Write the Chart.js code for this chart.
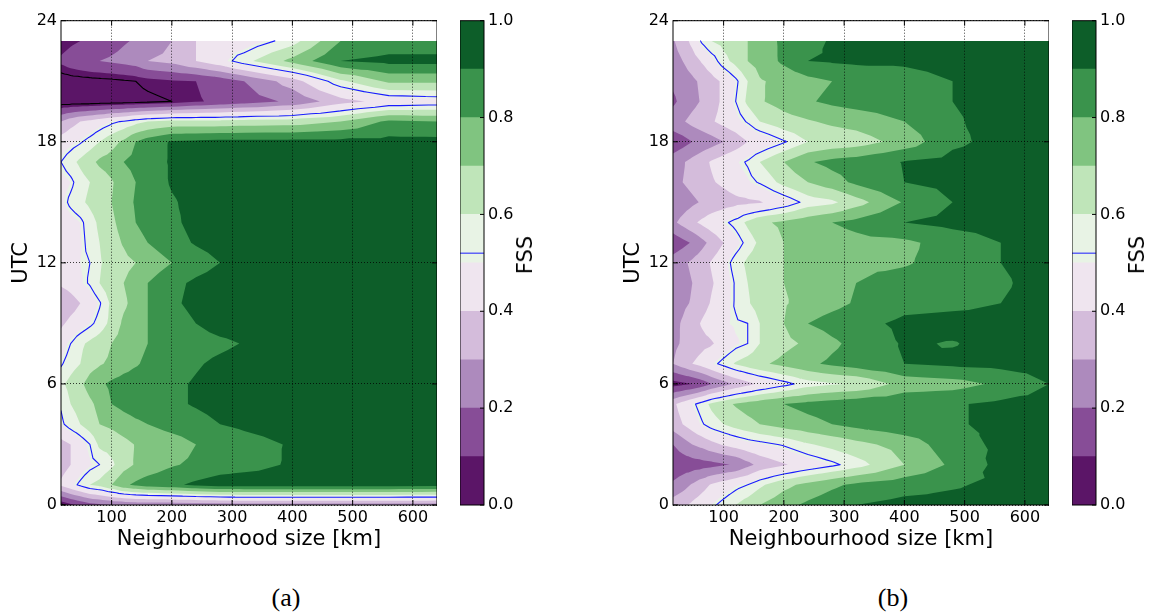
<!DOCTYPE html>
<html>
<head>
<meta charset="utf-8">
<script src="https://cdn.jsdelivr.net/npm/chart.js@4/dist/chart.umd.min.js"></script>
<style>
  body { margin: 0; background: #fff; width: 1154px; height: 612px; position: relative; overflow: hidden; font-family: "DejaVu Sans", sans-serif; }
  canvas { position: absolute; top: 0; }
  .cbar-label { position: absolute; font-size: 21px; color: #000; white-space: nowrap; transform: translate(-50%, -50%) rotate(-90deg); }
  .panel-tag { position: absolute; font-family: "Liberation Serif", serif; font-size: 26px; color: #000; transform: translate(-50%, -50%); }
</style>
</head>
<body>
<canvas id="fssA" width="437" height="560" style="left:0px"></canvas>
<canvas id="barA" width="60" height="560" style="left:460px"></canvas>
<canvas id="fssB" width="437" height="560" style="left:612px"></canvas>
<canvas id="barB" width="60" height="560" style="left:1072px"></canvas>
<div class="cbar-label" style="left:525px; top:255px">FSS</div>
<div class="cbar-label" style="left:1137px; top:255px">FSS</div>
<div class="panel-tag" style="left:286px; top:598px">(a)</div>
<div class="panel-tag" style="left:893px; top:598px">(b)</div>
<script>
"use strict"

// neighbourhood sizes (km) and forecast hours the scores were computed on
const sizesKm = [16, 32, 48, 64, 80, 100, 120, 140, 160, 200, 240, 280, 320, 400, 480, 560, 640]
const utcHours = [0, 1, 2, 3, 4, 5, 6, 7, 8, 9, 10, 11, 12, 13, 14, 15, 16, 17, 18, 19, 20, 21, 22, 23]

// FSS, one row per hour, one column per neighbourhood size
const fssPanelA = [
  [0.03, 0.08, 0.12, 0.16, 0.18, 0.2, 0.21, 0.22, 0.22, 0.22, 0.23, 0.24, 0.25, 0.25, 0.25, 0.25, 0.25],
  [0.42, 0.48, 0.54, 0.6, 0.63, 0.7, 0.78, 0.82, 0.85, 0.88, 0.92, 0.95, 0.95, 0.95, 0.95, 0.95, 0.94],
  [0.35, 0.4, 0.45, 0.49, 0.52, 0.58, 0.66, 0.71, 0.74, 0.79, 0.82, 0.85, 0.87, 0.91, 0.94, 0.95, 0.95],
  [0.36, 0.4, 0.46, 0.52, 0.62, 0.64, 0.67, 0.705, 0.72, 0.75, 0.8, 0.83, 0.86, 0.91, 0.95, 0.96, 0.96],
  [0.5, 0.56, 0.6, 0.65, 0.7, 0.72, 0.75, 0.78, 0.8, 0.84, 0.86, 0.9, 0.92, 0.95, 0.96, 0.96, 0.96],
  [0.53, 0.6, 0.63, 0.68, 0.73, 0.8, 0.83, 0.85, 0.86, 0.88, 0.91, 0.94, 0.95, 0.96, 0.96, 0.96, 0.96],
  [0.58, 0.63, 0.68, 0.74, 0.78, 0.82, 0.84, 0.85, 0.86, 0.88, 0.91, 0.94, 0.95, 0.96, 0.96, 0.96, 0.96],
  [0.51, 0.56, 0.6, 0.66, 0.69, 0.72, 0.76, 0.79, 0.82, 0.86, 0.89, 0.92, 0.94, 0.95, 0.96, 0.96, 0.96],
  [0.46, 0.52, 0.58, 0.62, 0.65, 0.7, 0.74, 0.77, 0.8, 0.84, 0.86, 0.88, 0.905, 0.95, 0.96, 0.96, 0.96],
  [0.38, 0.43, 0.46, 0.5, 0.55, 0.63, 0.72, 0.76, 0.8, 0.85, 0.9, 0.94, 0.95, 0.96, 0.96, 0.96, 0.96],
  [0.3, 0.35, 0.4, 0.45, 0.51, 0.62, 0.68, 0.74, 0.8, 0.88, 0.93, 0.95, 0.96, 0.96, 0.96, 0.96, 0.96],
  [0.42, 0.45, 0.49, 0.53, 0.6, 0.66, 0.7, 0.75, 0.8, 0.87, 0.92, 0.95, 0.96, 0.96, 0.96, 0.96, 0.96],
  [0.45, 0.47, 0.5, 0.52, 0.59, 0.64, 0.67, 0.7, 0.74, 0.8, 0.85, 0.9, 0.94, 0.96, 0.96, 0.96, 0.96],
  [0.44, 0.46, 0.49, 0.55, 0.6, 0.66, 0.71, 0.77, 0.8, 0.86, 0.91, 0.94, 0.95, 0.96, 0.96, 0.96, 0.96],
  [0.44, 0.47, 0.5, 0.56, 0.62, 0.68, 0.74, 0.8, 0.83, 0.88, 0.93, 0.95, 0.96, 0.96, 0.96, 0.96, 0.96],
  [0.48, 0.54, 0.58, 0.62, 0.66, 0.7, 0.76, 0.81, 0.84, 0.89, 0.93, 0.95, 0.96, 0.96, 0.96, 0.96, 0.96],
  [0.47, 0.5, 0.56, 0.6, 0.64, 0.69, 0.75, 0.8, 0.84, 0.91, 0.94, 0.95, 0.96, 0.96, 0.96, 0.96, 0.96],
  [0.52, 0.57, 0.62, 0.67, 0.72, 0.75, 0.8, 0.83, 0.86, 0.91, 0.95, 0.96, 0.96, 0.96, 0.96, 0.96, 0.96],
  [0.45, 0.48, 0.51, 0.55, 0.6, 0.66, 0.72, 0.8, 0.85, 0.91, 0.92, 0.93, 0.93, 0.93, 0.93, 0.93, 0.93],
  [0.3, 0.36, 0.4, 0.43, 0.46, 0.5, 0.53, 0.57, 0.6, 0.63, 0.63, 0.63, 0.64, 0.65, 0.7, 0.82, 0.8],
  [0.0, 0.0, 0.0, 0.0, 0.005, 0.01, 0.015, 0.02, 0.03, 0.05, 0.09, 0.12, 0.15, 0.22, 0.36, 0.44, 0.46],
  [0.0, 0.01, 0.015, 0.02, 0.025, 0.03, 0.04, 0.05, 0.07, 0.09, 0.1, 0.14, 0.2, 0.35, 0.58, 0.72, 0.72],
  [0.12, 0.15, 0.17, 0.19, 0.2, 0.215, 0.23, 0.25, 0.3, 0.33, 0.4, 0.47, 0.57, 0.73, 0.9, 0.93, 0.93],
  [0.05, 0.08, 0.1, 0.12, 0.14, 0.16, 0.19, 0.21, 0.23, 0.3, 0.4, 0.44, 0.45, 0.56, 0.8, 0.84, 0.84]
]

const fssPanelB = [
  [0.35, 0.38, 0.42, 0.46, 0.5, 0.55, 0.6, 0.65, 0.7, 0.77, 0.82, 0.86, 0.9, 0.93, 0.93, 0.94, 0.94],
  [0.22, 0.26, 0.31, 0.36, 0.41, 0.45, 0.49, 0.52, 0.58, 0.67, 0.73, 0.78, 0.82, 0.86, 0.89, 0.92, 0.94],
  [0.12, 0.14, 0.15, 0.16, 0.17, 0.19, 0.21, 0.27, 0.33, 0.39, 0.45, 0.5, 0.56, 0.7, 0.82, 0.93, 0.94],
  [0.2, 0.25, 0.3, 0.33, 0.37, 0.41, 0.44, 0.47, 0.49, 0.53, 0.59, 0.63, 0.67, 0.74, 0.86, 0.92, 0.94],
  [0.35, 0.4, 0.45, 0.51, 0.56, 0.6, 0.64, 0.67, 0.7, 0.74, 0.77, 0.8, 0.83, 0.87, 0.89, 0.92, 0.94],
  [0.38, 0.44, 0.5, 0.56, 0.62, 0.67, 0.71, 0.74, 0.76, 0.8, 0.83, 0.85, 0.87, 0.88, 0.89, 0.92, 0.94],
  [0.06, 0.08, 0.1, 0.14, 0.2, 0.26, 0.32, 0.37, 0.42, 0.49, 0.56, 0.59, 0.61, 0.74, 0.76, 0.82, 0.9],
  [0.3, 0.35, 0.4, 0.44, 0.49, 0.55, 0.61, 0.65, 0.68, 0.73, 0.78, 0.82, 0.85, 0.9, 0.92, 0.93, 0.94],
  [0.28, 0.31, 0.34, 0.37, 0.39, 0.44, 0.49, 0.52, 0.6, 0.67, 0.72, 0.78, 0.83, 0.91, 0.895, 0.93, 0.94],
  [0.27, 0.31, 0.36, 0.41, 0.45, 0.49, 0.51, 0.52, 0.6, 0.7, 0.8, 0.84, 0.87, 0.92, 0.93, 0.93, 0.94],
  [0.25, 0.28, 0.31, 0.36, 0.41, 0.46, 0.53, 0.59, 0.64, 0.69, 0.74, 0.77, 0.81, 0.87, 0.88, 0.9, 0.93],
  [0.22, 0.26, 0.3, 0.34, 0.39, 0.45, 0.53, 0.6, 0.64, 0.7, 0.73, 0.76, 0.8, 0.84, 0.87, 0.89, 0.93],
  [0.25, 0.28, 0.32, 0.36, 0.41, 0.47, 0.56, 0.62, 0.66, 0.7, 0.74, 0.76, 0.78, 0.79, 0.84, 0.9, 0.93],
  [0.13, 0.17, 0.21, 0.27, 0.33, 0.4, 0.47, 0.55, 0.62, 0.7, 0.73, 0.75, 0.77, 0.78, 0.84, 0.9, 0.93],
  [0.28, 0.33, 0.38, 0.42, 0.46, 0.5, 0.55, 0.62, 0.68, 0.72, 0.76, 0.8, 0.83, 0.9, 0.93, 0.94, 0.95],
  [0.22, 0.25, 0.28, 0.31, 0.33, 0.35, 0.37, 0.38, 0.39, 0.46, 0.55, 0.58, 0.66, 0.81, 0.9, 0.93, 0.94],
  [0.28, 0.3, 0.33, 0.36, 0.39, 0.42, 0.46, 0.49, 0.53, 0.63, 0.7, 0.76, 0.82, 0.9, 0.93, 0.95, 0.95],
  [0.25, 0.29, 0.33, 0.37, 0.41, 0.45, 0.49, 0.53, 0.6, 0.7, 0.79, 0.83, 0.85, 0.905, 0.93, 0.95, 0.95],
  [0.13, 0.16, 0.2, 0.23, 0.26, 0.3, 0.34, 0.4, 0.43, 0.51, 0.6, 0.63, 0.65, 0.74, 0.88, 0.93, 0.93],
  [0.26, 0.29, 0.33, 0.36, 0.39, 0.43, 0.47, 0.53, 0.6, 0.66, 0.69, 0.72, 0.74, 0.8, 0.89, 0.93, 0.94],
  [0.18, 0.23, 0.27, 0.31, 0.36, 0.42, 0.52, 0.62, 0.69, 0.74, 0.79, 0.82, 0.84, 0.86, 0.9, 0.93, 0.94],
  [0.22, 0.25, 0.28, 0.32, 0.36, 0.42, 0.5, 0.6, 0.69, 0.73, 0.77, 0.8, 0.82, 0.85, 0.9, 0.93, 0.94],
  [0.26, 0.3, 0.35, 0.41, 0.47, 0.57, 0.63, 0.7, 0.74, 0.82, 0.9, 0.91, 0.92, 0.92, 0.94, 0.95, 0.95],
  [0.29, 0.35, 0.43, 0.535, 0.6, 0.63, 0.66, 0.7, 0.75, 0.82, 0.87, 0.91, 0.93, 0.95, 0.96, 0.96, 0.96]
]

// contour bands, 0.0 to 1.0 in steps of 0.1, purple to green
const fssLevels = [0, 0.1, 0.2, 0.3, 0.4, 0.5, 0.6, 0.7, 0.8, 0.9, 1.0]
const bandColors = ["#5b1567", "#874d97", "#ad8abd", "#d4bcdb", "#efe5ef",
                    "#e8f3e5", "#bfe5b9", "#80c480", "#3a934c", "#0d5e29"]
const usefulLevel = 0.52
const lowLevel = 0.05

const sizeTicks = [100, 200, 300, 400, 500, 600]
const hourTicks = [0, 6, 12, 18, 24]
const barTicks = [0, 0.2, 0.4, 0.6, 0.8, 1.0]

Chart.defaults.font.family = "'DejaVu Sans', sans-serif"
Chart.defaults.color = "#000"

// split each grid cell in four triangles around its centre
function buildTriangles(fss, xScale, yScale){
    const tris = []
    const pt = (i, j) => ({
        x: xScale.getPixelForValue(sizesKm[i]),
        y: yScale.getPixelForValue(utcHours[j]),
        v: fss[j][i]
    })
    for (let j = 0; j < utcHours.length - 1; j++){
        for (let i = 0; i < sizesKm.length - 1; i++){
            const a = pt(i, j), b = pt(i + 1, j), c = pt(i + 1, j + 1), d = pt(i, j + 1)
            const m = {
                x: (a.x + b.x + c.x + d.x) / 4,
                y: (a.y + b.y + c.y + d.y) / 4,
                v: (a.v + b.v + c.v + d.v) / 4
            }
            tris.push([a, b, m], [b, c, m], [c, d, m], [d, a, m])
        }
    }
    return tris
}

// keep the part of a polygon where v >= level
function clipAbove(poly, level){
    const out = []
    for (let k = 0; k < poly.length; k++){
        const a = poly[k], b = poly[(k + 1) % poly.length]
        const ina = a.v >= level, inb = b.v >= level
        if (ina) out.push(a)
        if (ina !== inb){
            const t = (level - a.v) / (b.v - a.v)
            out.push({x: a.x + t * (b.x - a.x), y: a.y + t * (b.y - a.y), v: level})
        }
    }
    return out
}

function strokeLevel(ctx, tris, level, color){
    ctx.beginPath()
    for (const tri of tris){
        const pts = []
        for (let k = 0; k < 3; k++){
            const a = tri[k], b = tri[(k + 1) % 3]
            if ((a.v >= level) !== (b.v >= level)){
                const t = (level - a.v) / (b.v - a.v)
                pts.push([a.x + t * (b.x - a.x), a.y + t * (b.y - a.y)])
            }
        }
        if (pts.length === 2){
            ctx.moveTo(pts[0][0], pts[0][1])
            ctx.lineTo(pts[1][0], pts[1][1])
        }
    }
    ctx.strokeStyle = color
    ctx.lineWidth = 1.1
    ctx.lineCap = "round"
    ctx.stroke()
}

function contourLayer(fss){
    return {
        id: "contourLayer",
        beforeDatasetsDraw(chart){
            const {ctx, chartArea, scales} = chart
            const tris = buildTriangles(fss, scales.x, scales.y)
            ctx.save()
            ctx.beginPath()
            ctx.rect(chartArea.left, chartArea.top, chartArea.width, chartArea.height)
            ctx.clip()
            for (let k = 0; k < bandColors.length; k++){
                ctx.beginPath()
                for (const tri of tris){
                    const poly = k === 0 ? tri : clipAbove(tri, fssLevels[k])
                    if (poly.length < 3) continue
                    ctx.moveTo(poly[0].x, poly[0].y)
                    for (let n = 1; n < poly.length; n++) ctx.lineTo(poly[n].x, poly[n].y)
                    ctx.closePath()
                }
                ctx.fillStyle = bandColors[k]
                ctx.fill()
            }
            strokeLevel(ctx, tris, lowLevel, "#000")
            strokeLevel(ctx, tris, usefulLevel, "#1a1aff")
            ctx.restore()
        }
    }
}

// box round the axes with short inward ticks on every side
const axesFrame = {
    id: "axesFrame",
    afterDraw(chart){
        const {ctx, chartArea: a, scales} = chart
        ctx.save()
        ctx.strokeStyle = "#000"
        ctx.lineWidth = 1
        ctx.beginPath()
        for (const t of scales.x.ticks){
            const px = scales.x.getPixelForValue(t.value)
            ctx.moveTo(px, a.bottom); ctx.lineTo(px, a.bottom - 5)
            ctx.moveTo(px, a.top); ctx.lineTo(px, a.top + 5)
        }
        for (const t of scales.y.ticks){
            const py = scales.y.getPixelForValue(t.value)
            ctx.moveTo(a.left, py); ctx.lineTo(a.left + 5, py)
            ctx.moveTo(a.right, py); ctx.lineTo(a.right - 5, py)
        }
        ctx.stroke()
        ctx.strokeRect(a.left, a.top, a.width, a.height)
        ctx.restore()
    }
}

const gridStyle = { color: "rgba(0,0,0,0.75)", lineWidth: 1, drawTicks: false, z: 1 }

function fssChart(canvasId, fss){
    return new Chart(document.getElementById(canvasId), {
        type: "scatter",
        data: { datasets: [{ data: [] }] },
        options: {
            responsive: false,
            animation: false,
            events: [],
            layout: { padding: { top: 20.7, left: 0, right: 0, bottom: 0 } },
            plugins: { legend: { display: false }, tooltip: { enabled: false } },
            scales: {
                x: {
                    type: "linear", min: 16, max: 640,
                    afterBuildTicks: s => { s.ticks = sizeTicks.map(v => ({value: v})) },
                    afterFit: s => { s.height = 55 },
                    grid: gridStyle,
                    border: { display: false, dash: [1, 2] },
                    ticks: { font: { size: 16 }, padding: 3, maxRotation: 0 },
                    title: { display: true, text: "Neighbourhood size [km]", font: { size: 21 }, padding: { top: 0, bottom: 8 } }
                },
                y: {
                    type: "linear", min: 0, max: 24,
                    afterBuildTicks: s => { s.ticks = hourTicks.map(v => ({value: v})) },
                    afterFit: s => { s.width = 61 },
                    grid: gridStyle,
                    border: { display: false, dash: [1, 2] },
                    ticks: { font: { size: 16 }, padding: 4 },
                    title: { display: true, text: "UTC", font: { size: 21 }, padding: { top: 9, bottom: 0 } }
                }
            }
        },
        plugins: [contourLayer(fss), axesFrame]
    })
}

const barOverlay = {
    id: "barOverlay",
    afterDraw(chart){
        const {ctx, chartArea: a, scales} = chart
        const py = scales.y.getPixelForValue(usefulLevel)
        ctx.save()
        ctx.strokeStyle = "#1a1aff"
        ctx.lineWidth = 1
        ctx.beginPath()
        ctx.moveTo(a.left, py); ctx.lineTo(a.right, py)
        ctx.stroke()
        ctx.strokeStyle = "#000"
        ctx.beginPath()
        for (const v of barTicks){
            const ty = scales.y.getPixelForValue(v)
            ctx.moveTo(a.right - 4, ty); ctx.lineTo(a.right, ty)
        }
        ctx.stroke()
        ctx.strokeRect(a.left, a.top, a.width, a.height)
        ctx.restore()
    }
}

function colourBar(canvasId){
    return new Chart(document.getElementById(canvasId), {
        type: "bar",
        data: {
            labels: ["FSS"],
            datasets: bandColors.map((c, k) => ({
                data: [[fssLevels[k], fssLevels[k + 1]]],
                backgroundColor: c,
                borderWidth: 0,
                barPercentage: 1,
                categoryPercentage: 1,
                grouped: false
            }))
        },
        options: {
            responsive: false,
            animation: false,
            events: [],
            layout: { padding: { top: 20.7, left: 0, right: 0, bottom: 55 } },
            plugins: { legend: { display: false }, tooltip: { enabled: false } },
            scales: {
                x: { display: false },
                y: {
                    position: "right", min: 0, max: 1,
                    afterBuildTicks: s => { s.ticks = barTicks.map(v => ({value: v})) },
                    afterFit: s => { s.width = 36 },
                    grid: { display: false, drawTicks: false },
                    border: { display: false },
                    ticks: { font: { size: 16 }, padding: 4, callback: v => v.toFixed(1) }
                }
            }
        },
        plugins: [barOverlay]
    })
}

fssChart("fssA", fssPanelA)
colourBar("barA")
fssChart("fssB", fssPanelB)
colourBar("barB")
</script>
</body>
</html>
